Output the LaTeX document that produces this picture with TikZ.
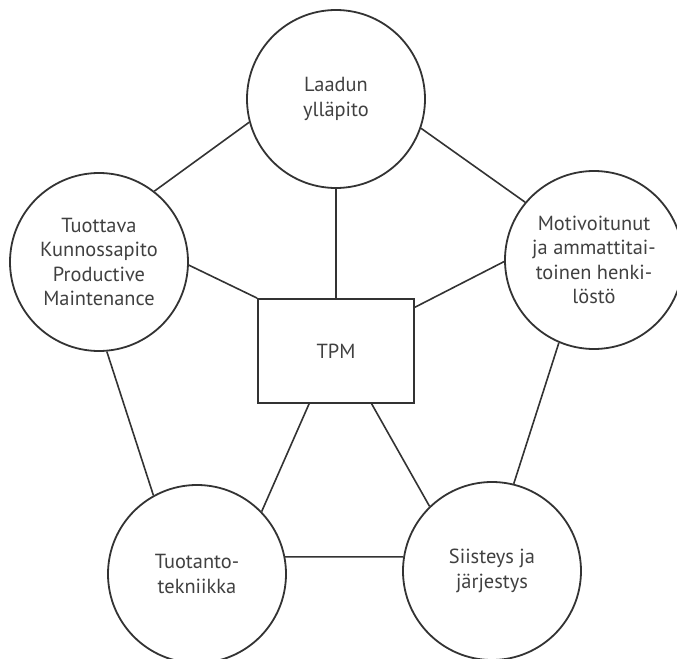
\documentclass[tikz,border=0pt]{standalone}
\usepackage{fontspec}
\setmainfont{PT Sans}

\begin{document}
\begin{tikzpicture}[x=0.5pt,y=-0.5pt,
  pillar/.style={circle,draw=black!80,line width=0.9pt,minimum size=89pt,inner sep=0pt,
    align=center,text=black!75,font=\fontsize{10.2}{12.2}\selectfont},
  core/.style={rectangle,draw=black!80,line width=0.9pt,minimum width=78pt,minimum height=52pt,
    inner sep=0pt,text=black!75,font=\fontsize{10.2}{12.2}\selectfont},
  link/.style={draw=black!80,line width=0.8pt}]
\useasboundingbox (0,0) rectangle (677,659);
\clip (0,0) rectangle (677,659);
% the five pillars round the box
\node [pillar] (quality) at (336,99) {Laadun\\ylläpito};
\node [pillar] (maint) at (99,262) {Tuottava\\Kunnossapito\\Productive\\Maintenance};
\node [pillar] (staff) at (594,260) {Motivoitunut\\ja ammattitai-\\toinen henki-\\löstö};
\node [pillar] (tech) at (197,574) {Tuotanto-\\tekniikka};
\node [pillar] (order) at (492,571) {Siisteys ja\\järjestys};
\node [core] (tpm) at (336,351) {TPM};
% outer ring
\draw [link] (quality.195) -- (maint.52);
\draw [link] (quality.-19) -- (staff.140);
\draw [link] (maint.-85) -- (tech.119);
\draw [link] (staff.-113) -- (order.76);
\draw [link] (tech.11) -- (order.171);
% spokes
\draw [link] (quality.south) -- (tpm.north);
\draw [link] (maint.-2) -- (tpm.north west);
\draw [link] (staff.181) -- (tpm.29);
\draw [link] (tpm.243) -- (tech.44);
\draw [link] (tpm.304) -- (order.134);
\end{tikzpicture}
\end{document}
